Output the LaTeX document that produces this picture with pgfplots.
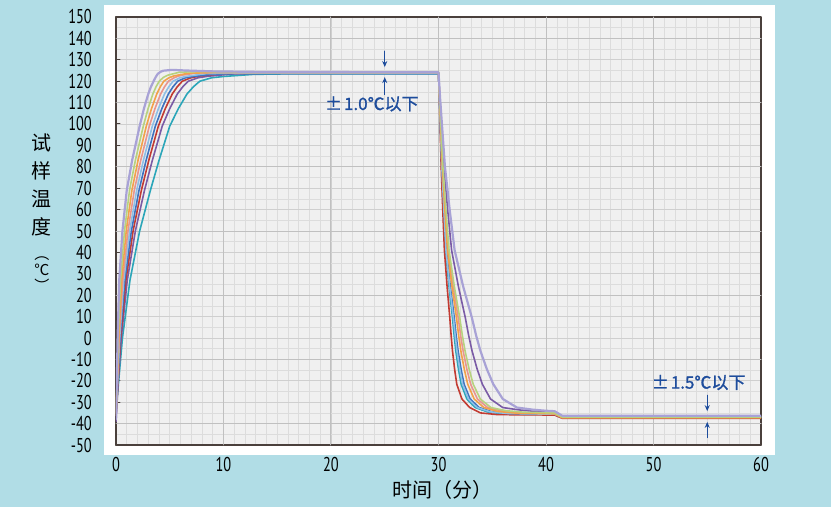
\documentclass[border=0pt]{standalone}
\usepackage{fontspec}
\usepackage{pgfplots}
\pgfplotsset{compat=1.18}
\usetikzlibrary{arrows.meta}
\setmainfont{PT Sans}
\newfontfamily\tickfont{PT Sans}[FakeStretch=0.72]
\newfontfamily\cjk{Noto Sans CJK SC}
\newfontfamily\cjkb{Noto Sans CJK SC}[FakeBold=1.2]

\definecolor{bgblue}{HTML}{B1DDE6}
\definecolor{plotbg}{HTML}{F0F0F0}
\definecolor{gridlight}{HTML}{DCDCDC}
\definecolor{gridmid}{HTML}{CFCFCF}
\definecolor{griddark}{HTML}{C0C0C0}
\definecolor{axisdark}{HTML}{4A403C}
\definecolor{annot}{HTML}{1D4C9C}
% curve colours
\definecolor{clav}{HTML}{A8A2D6}
\definecolor{cgreen}{HTML}{B7D27E}
\definecolor{corange}{HTML}{F2A14A}
\definecolor{csalmon}{HTML}{E8958E}
\definecolor{clblue}{HTML}{8FBFE6}
\definecolor{cblue}{HTML}{3E72BE}
\definecolor{cred}{HTML}{C23B32}
\definecolor{cpurple}{HTML}{7A5BA6}
\definecolor{cteal}{HTML}{2BA6B9}

\begin{document}
\begin{tikzpicture}
\path[use as bounding box] (-116pt,-62pt) rectangle (715pt,445pt);
\fill[bgblue] (-116pt,-62pt) rectangle (715pt,445pt);
\fill[white] (-12pt,-10pt) rectangle (659pt,440pt);
\begin{axis}[
  at={(0pt,0pt)}, anchor=south west,
  scale only axis, width=645pt, height=428pt,
  xmin=0, xmax=60, ymin=-50, ymax=150,
  xtick={0,10,...,60}, ytick={-50,-40,...,150},
  minor x tick num=9, minor y tick num=1,
  grid=both,
  major grid style={draw=gridmid, line width=0.8pt},
  minor grid style={draw=gridlight, line width=0.5pt},
  extra x ticks={10,20,30,40,50},
  extra y ticks={-40,-10,20,50,80,110,140},
  extra x tick labels={}, extra y tick labels={},
  extra tick style={grid=major, major grid style={draw=griddark, line width=1pt}, major tick length=0pt},
  axis background/.style={fill=plotbg},
  axis line style={draw=axisdark, line width=1.5pt},
  tick style={draw=axisdark, line width=1pt},
  major tick length=4pt, minor tick length=0pt,
  tick align=inside, tick pos=left,
  ticklabel style={font=\tickfont\fontsize{20}{20}\selectfont, text=black},
  /pgf/number format/assume math mode=true,
  yticklabel style={inner sep=0pt, xshift=-24pt},
  xticklabel style={inner sep=0pt, yshift=-12pt},
  line join=round, line cap=round,
]

% 试样温度曲线（升温 -> 保持 -> 降温）
\addplot[cteal, line width=1.6pt] coordinates {
(0,-34)(0.25,-20)(0.6,0)(1.3,27)(2.2,50)(3.2,69)(4.0,83)(5.0,99)(5.8,107.2)(6.6,114)(7.2,117.4)(7.8,120)(8.9,121.6)(10,122.2)(12.8,123.2)(16.8,123.5)(30,123.5)
(30.09,112)(30.29,80)(30.475,59.5)(30.66,41)(30.98,24)(31.30,9.6)(31.455,1.2)(31.61,-6)(31.86,-14.6)(32.11,-21.6)(32.64,-28.5)(33.43,-32.5)(34.6,-34.6)(36.2,-35.5)(40.8,-35.8)(41.5,-37.2)(60,-37.2)
};
\addplot[cpurple, line width=1.6pt] coordinates {
(0,-39)(0.21,-20)(0.49,0)(1.05,27)(1.8,50)(2.65,69)(3.38,83)(4.3,99)(5.0,107.2)(5.7,114)(6.215,117.4)(6.73,120)(7.63,121.6)(8.53,122.3)(10.86,123.4)(14.23,123.7)(30,123.7)
(30.13,112)(30.5,80)(30.86,59.5)(31.22,41)(31.855,24)(32.49,9.6)(32.805,1.2)(33.12,-6)(33.6,-14.6)(34.08,-21.6)(34.84,-28.5)(35.98,-32.5)(37.5,-33.6)(39,-34.3)(40.8,-34.6)(41.5,-36.6)(60,-36.6)
};
\addplot[cred, line width=1.6pt] coordinates {
(0,-36)(0.19,-20)(0.43,0)(0.92,27)(1.59,50)(2.36,69)(3.05,83)(3.94,99)(4.585,107.2)(5.23,114)(5.70,117.4)(6.17,120)(6.965,121.6)(7.76,122.4)(9.84,123.6)(12.89,123.9)(30,123.9)
(30.08,112)(30.25,80)(30.4,59.5)(30.55,41)(30.8,24)(31.05,9.6)(31.175,1.2)(31.3,-6)(31.5,-14.6)(31.7,-21.6)(32.18,-28.5)(32.9,-32.5)(33.9,-35)(35.5,-35.8)(40.8,-36)(41.5,-37.5)(60,-37.5)
};
\addplot[cblue, line width=1.6pt] coordinates {
(0,-36)(0.17,-20)(0.38,0)(0.82,27)(1.43,50)(2.14,69)(2.8,83)(3.66,99)(4.265,107.2)(4.87,114)(5.305,117.4)(5.74,120)(6.455,121.6)(7.17,122.2)(9.06,123.3)(11.86,123.6)(30,123.6)
(30.09,112)(30.32,80)(30.53,59.5)(30.74,41)(31.10,24)(31.46,9.6)(31.64,1.2)(31.82,-6)(32.10,-14.6)(32.38,-21.6)(32.94,-28.5)(33.78,-32.5)(35.0,-34.5)(36.7,-35.3)(40.8,-35.6)(41.5,-37.1)(60,-37.1)
};
\addplot[clblue, line width=1.6pt] coordinates {
(0,-35)(0.15,-20)(0.34,0)(0.72,27)(1.27,50)(1.92,69)(2.55,83)(3.38,99)(3.945,107.2)(4.51,114)(4.91,117.4)(5.31,120)(5.945,121.6)(6.58,122.3)(8.28,123.5)(10.83,123.8)(30,123.8)
(30.09,112)(30.31,80)(30.505,59.5)(30.70,41)(31.04,24)(31.38,9.6)(31.55,1.2)(31.72,-6)(31.98,-14.6)(32.24,-21.6)(32.79,-28.5)(33.6,-32.5)(34.8,-34.5)(36.5,-35.3)(40.8,-35.6)(41.5,-36.8)(60,-36.8)
};
\addplot[csalmon, line width=1.6pt] coordinates {
(0,-36)(0.13,-20)(0.29,0)(0.62,27)(1.11,50)(1.70,69)(2.30,83)(3.10,99)(3.625,107.2)(4.15,114)(4.515,117.4)(4.88,120)(5.435,121.7)(5.99,122.7)(7.5,123.9)(9.8,124.2)(30,124.2)
(30.11,112)(30.38,80)(30.645,59.5)(30.91,41)(31.37,24)(31.83,9.6)(32.06,1.2)(32.29,-6)(32.64,-14.6)(32.99,-21.6)(33.62,-28.5)(34.57,-32.5)(35.9,-34.1)(37.6,-34.9)(40.8,-35.2)(41.5,-37.0)(60,-37.0)
};
\addplot[corange, line width=1.6pt] coordinates {
(0,-35)(0.12,-20)(0.25,0)(0.52,27)(0.95,50)(1.48,69)(2.05,83)(2.82,99)(3.305,107.2)(3.79,114)(4.12,117.4)(4.45,120)(4.925,121.6)(5.4,122.5)(6.72,123.7)(8.77,124.0)(30,124.0)
(30.1,112)(30.36,80)(30.6,59.5)(30.84,41)(31.255,24)(31.67,9.6)(31.875,1.2)(32.08,-6)(32.40,-14.6)(32.72,-21.6)(33.32,-28.5)(34.22,-32.5)(35.5,-34.3)(37.2,-35.1)(40.8,-35.4)(41.5,-37.3)(60,-37.3)
};
\addplot[cgreen, line width=1.6pt] coordinates {
(0,-36)(0.10,-20)(0.20,0)(0.42,27)(0.79,50)(1.26,69)(1.8,83)(2.54,99)(2.985,107.2)(3.43,114)(3.725,117.4)(4.02,120)(4.415,121.8)(4.81,122.8)(5.9,124.2)(7.7,124.5)(12,124.3)(30,124.3)
(30.11,112)(30.41,80)(30.695,59.5)(30.98,41)(31.475,24)(31.97,9.6)(32.22,1.2)(32.47,-6)(32.85,-14.6)(33.23,-21.6)(33.89,-28.5)(34.88,-32.5)(36.3,-34.0)(38,-34.7)(40.8,-35.0)(41.5,-36.9)(60,-36.9)
};
\addplot[clav, line width=2.2pt] coordinates {
(0,-38)(0.08,-20)(0.15,0)(0.3,27)(0.6,50)(1.0,69)(1.5,83)(2.2,99)(2.6,107.2)(3.0,114)(3.25,117.4)(3.5,120)(3.7,122.0)(3.9,123.5)(4.15,124.4)(4.4,124.9)(5.2,125.3)(6.5,125.0)(9,124.6)(14,124.3)(30,124.2)
(30.15,112)(30.6,80)(31.05,59.5)(31.5,41)(32.3,24)(33.1,9.6)(33.5,1.2)(33.9,-6)(34.5,-14.6)(35.1,-21.6)(35.98,-28.5)(37.3,-32.5)(38.8,-33.5)(40,-34.0)(40.8,-34.2)(41.5,-36.3)(60,-36.3)
};

% 温度偏差标注
\draw[annot, line width=1.3pt, -{Stealth[length=6pt,width=5pt]}] (axis cs:25,134) -- (axis cs:25,126.6);
\draw[annot, line width=1.3pt, -{Stealth[length=6pt,width=5pt]}] (axis cs:25,113.8) -- (axis cs:25,121.9);
\node[annot, font=\cjkb\fontsize{17}{17}\selectfont] at (axis cs:23.8,109.4) {±\kern2pt1.0℃以下};
\draw[annot, line width=1.3pt, -{Stealth[length=6pt,width=5pt]}] (axis cs:55,-26.8) -- (axis cs:55,-34.2);
\draw[annot, line width=1.3pt, -{Stealth[length=6pt,width=5pt]}] (axis cs:55,-46.5) -- (axis cs:55,-39.2);
\node[annot, font=\cjkb\fontsize{17}{17}\selectfont] at (axis cs:54.2,-20.8) {±\kern2pt1.5℃以下};
\end{axis}

% 坐标轴标题
\node[font=\cjk\fontsize{20}{28}\selectfont, align=center, anchor=north, inner sep=0pt] at (-74pt,311pt)
  {试\\样\\温\\度\\[-3pt]{\fontsize{15}{15}\selectfont ︵}\\[-12pt]{\fontsize{15}{15}\selectfont ℃}\\[-12pt]{\fontsize{15}{15}\selectfont ︶}};
\node[font=\cjk\fontsize{20}{20}\selectfont] at (326pt,-45pt) {时间（分）};
\end{tikzpicture}
\end{document}
